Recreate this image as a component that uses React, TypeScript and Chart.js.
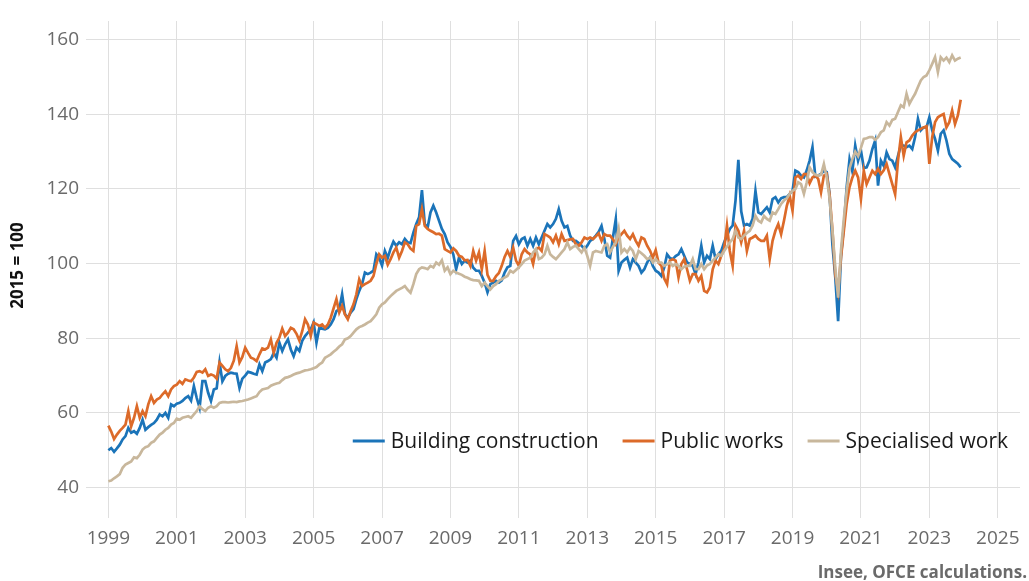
import React, { useEffect, useRef } from 'react';
import { Chart, registerables } from 'chart.js';

Chart.register(...registerables);

// Monthly indices, January 1999 onwards (2015 = 100)
const START_YEAR = 1999;

const buildingConstruction = [
  50.0, 50.6, 49.6, 50.5, 51.5, 52.9, 53.8, 56.0, 54.7, 55.1, 54.4, 56.0,
  58.2, 55.5, 56.2, 56.8, 57.3, 58.2, 59.6, 59.1, 60.0, 58.7, 62.3, 61.8,
  62.5, 62.7, 63.2, 64.0, 64.5, 63.3, 67.2, 64.0, 61.4, 68.5, 68.5, 65.4,
  63.2, 66.3, 66.6, 73.5, 68.5, 69.9, 70.5, 70.8, 70.6, 70.5, 66.7, 69.2,
  70.0, 71.0, 70.8, 70.5, 70.3, 73.0, 71.2, 73.5, 73.9, 74.4, 76.1, 74.8,
  78.8, 76.6, 78.4, 79.7, 77.0, 75.2, 77.5, 76.6, 79.3, 80.6, 81.5, 82.4,
  84.2, 78.8, 82.8, 82.6, 82.4, 82.8, 83.7, 85.1, 87.3, 87.8, 91.8, 86.5,
  85.5, 86.9, 87.8, 90.5, 92.7, 94.5, 97.6, 97.2, 97.6, 98.1, 102.5, 101.5,
  99.5, 103.4, 101.5, 104.0, 105.9, 104.8, 105.7, 105.2, 106.6, 105.7, 105.5, 108.3,
  110.6, 112.4, 119.7, 110.6, 109.7, 113.7, 115.5, 113.7, 111.5, 109.3, 107.9, 105.7,
  104.5, 102.5, 98.5, 101.6, 99.9, 100.8, 100.3, 100.8, 98.9, 98.1, 98.1, 96.7,
  94.9, 92.3, 94.5, 94.9, 95.4, 94.9, 95.5, 97.6, 99.0, 99.4, 106.1, 107.4,
  105.2, 106.6, 107.0, 104.8, 106.6, 104.8, 107.0, 105.2, 107.0, 108.8, 110.6, 109.7,
  110.6, 112.0, 114.6, 111.5, 109.7, 110.1, 107.5, 106.1, 106.1, 105.5, 104.8, 103.9,
  104.8, 106.1, 106.6, 107.5, 108.5, 110.1, 106.6, 102.1, 101.6, 107.0, 111.9, 98.1,
  100.3, 101.0, 101.6, 98.9, 101.2, 100.3, 99.4, 97.6, 98.5, 100.3, 101.6, 99.4,
  98.1, 97.6, 96.7, 99.0, 102.5, 101.5, 101.2, 102.0, 102.5, 103.9, 102.1, 100.3,
  100.0, 99.4, 97.2, 100.3, 104.8, 100.3, 102.1, 101.2, 104.8, 101.2, 102.5, 103.4,
  105.7, 107.5, 109.3, 110.2, 116.9, 127.8, 114.0, 110.2, 110.6, 110.2, 112.0, 119.5,
  113.7, 113.3, 114.2, 115.1, 113.7, 117.3, 117.8, 116.4, 117.5, 117.8, 117.8, 118.7,
  119.5, 124.9, 124.5, 123.6, 123.1, 125.0, 127.6, 131.2, 123.3, 123.6, 124.0, 124.9,
  124.5, 118.6, 105.0, 96.3, 84.6, 102.0, 110.0, 120.5, 128.0, 124.7, 131.6, 127.6,
  130.3, 125.6, 125.8, 127.6, 130.7, 133.0, 120.9, 127.6, 126.2, 129.8, 128.0, 127.6,
  125.8, 128.9, 131.6, 131.6, 131.2, 131.6, 130.7, 133.9, 138.8, 135.7, 136.5, 136.5,
  139.2, 135.7, 133.4, 130.3, 134.8, 135.7, 133.0, 129.4, 128.0, 127.4, 126.8, 125.8,
];

const publicWorks = [
  56.6, 55.0, 53.0, 54.2, 55.2, 56.0, 56.9, 60.5, 56.4, 58.7, 61.8, 58.7,
  60.5, 59.1, 62.3, 64.5, 62.7, 63.6, 64.0, 65.0, 65.8, 64.5, 66.3, 67.2,
  67.6, 68.5, 67.8, 69.0, 68.7, 68.5, 69.5, 71.0, 71.2, 70.8, 71.7, 69.9,
  70.3, 70.0, 69.2, 73.5, 72.6, 71.7, 71.2, 72.1, 74.0, 77.9, 73.5, 75.0,
  77.5, 76.1, 74.8, 74.5, 73.9, 75.7, 77.3, 77.0, 77.5, 79.7, 76.1, 78.8,
  80.2, 82.6, 80.6, 81.5, 82.8, 82.4, 81.2, 79.4, 81.9, 85.1, 83.7, 80.6,
  84.2, 83.8, 83.3, 83.7, 82.8, 83.7, 85.5, 88.0, 90.5, 86.9, 88.7, 86.4,
  85.1, 87.3, 89.1, 91.8, 95.8, 94.0, 94.5, 94.9, 95.4, 96.7, 99.9, 102.5,
  101.6, 102.1, 99.7, 101.2, 103.0, 104.3, 101.6, 103.4, 105.7, 105.2, 104.0, 103.4,
  110.1, 110.6, 114.6, 110.1, 109.3, 108.8, 108.4, 107.9, 108.0, 107.5, 103.9, 103.4,
  103.0, 104.1, 103.4, 102.1, 101.8, 100.9, 101.0, 99.4, 103.4, 100.8, 103.0, 98.5,
  103.4, 97.0, 95.4, 95.4, 96.7, 97.5, 99.4, 101.8, 103.4, 101.8, 104.3, 100.8,
  99.4, 102.5, 103.9, 103.0, 102.5, 99.9, 103.9, 104.3, 103.4, 107.9, 107.5, 107.0,
  105.7, 107.5, 105.2, 107.9, 106.1, 106.3, 106.5, 106.6, 105.2, 104.8, 105.7, 107.0,
  106.6, 107.0, 106.6, 107.3, 108.1, 106.1, 107.9, 107.5, 107.5, 106.5, 105.2, 107.0,
  107.9, 108.8, 107.5, 106.6, 107.9, 106.1, 104.8, 107.0, 106.6, 104.8, 103.5, 101.6,
  103.6, 100.3, 99.4, 96.0, 94.5, 100.8, 101.2, 100.8, 96.3, 99.9, 101.2, 98.5,
  95.4, 97.2, 97.2, 95.4, 96.7, 92.7, 92.3, 93.6, 98.5, 100.8, 99.9, 102.1,
  103.9, 110.2, 103.4, 99.4, 110.2, 108.8, 105.7, 108.8, 103.4, 106.6, 107.0, 107.5,
  106.6, 106.1, 106.1, 107.5, 101.2, 106.1, 108.8, 110.6, 107.9, 111.5, 115.5, 118.2,
  114.2, 123.1, 123.6, 122.7, 124.0, 124.0, 121.5, 123.1, 123.6, 122.7, 119.1, 123.6,
  124.0, 118.5, 109.0, 97.0, 92.7, 101.6, 108.8, 116.0, 120.5, 123.1, 124.9, 123.1,
  117.3, 124.9, 121.3, 123.1, 124.9, 124.0, 125.4, 124.0, 125.0, 126.7, 124.0, 121.3,
  118.6, 127.6, 133.9, 128.9, 132.5, 133.0, 134.3, 135.2, 135.7, 136.1, 136.5, 136.8,
  126.7, 133.9, 137.9, 139.2, 139.7, 140.1, 136.5, 137.9, 141.0, 137.4, 139.7, 143.9,
];

const specialisedWork = [
  41.7, 41.9, 42.5, 43.0, 43.6, 45.3, 46.2, 46.6, 47.0, 48.1, 47.9, 48.8,
  50.2, 50.8, 51.1, 52.0, 52.4, 53.3, 54.2, 54.7, 55.5, 56.0, 56.9, 57.3,
  58.5, 58.2, 58.7, 58.9, 59.1, 58.7, 59.6, 60.5, 61.8, 61.0, 60.5, 61.4,
  61.8, 61.4, 61.8, 62.7, 62.9, 62.9, 62.8, 62.9, 63.0, 62.9, 63.1, 63.2,
  63.4, 63.6, 63.9, 64.2, 64.5, 65.6, 66.3, 66.5, 66.7, 67.3, 67.6, 67.9,
  68.1, 68.8, 69.4, 69.6, 69.9, 70.3, 70.6, 70.8, 71.1, 71.4, 71.5, 71.7,
  72.0, 72.3, 73.0, 73.5, 74.8, 75.2, 75.7, 76.4, 77.0, 77.8, 78.4, 79.7,
  80.0, 80.6, 81.5, 82.4, 83.0, 83.3, 83.7, 84.2, 84.6, 85.5, 86.4, 88.2,
  89.1, 89.6, 90.5, 91.3, 92.0, 92.7, 93.1, 93.5, 94.0, 93.0, 92.2, 94.5,
  97.2, 98.5, 99.0, 98.8, 98.5, 99.4, 99.0, 100.3, 99.7, 100.9, 98.1, 99.0,
  97.2, 98.1, 97.6, 97.3, 97.0, 96.5, 96.2, 95.8, 95.6, 95.5, 95.4, 94.0,
  94.9, 94.0, 93.1, 94.0, 94.5, 95.4, 95.8, 96.3, 96.7, 98.1, 97.6, 98.3,
  99.0, 99.9, 100.8, 101.2, 101.6, 103.0, 103.9, 101.2, 101.6, 102.5, 104.8, 102.5,
  101.8, 101.2, 102.1, 103.0, 103.9, 105.7, 103.9, 104.5, 104.8, 103.9, 103.0, 104.3,
  102.1, 99.4, 103.0, 103.4, 103.2, 103.0, 104.8, 105.2, 103.0, 104.5, 105.7, 109.3,
  103.0, 103.9, 103.0, 104.3, 103.4, 101.2, 103.4, 102.8, 102.1, 101.2, 101.6, 100.3,
  101.2, 100.3, 100.3, 99.4, 99.8, 100.3, 99.4, 99.9, 99.4, 98.5, 99.2, 99.4,
  99.4, 101.2, 98.5, 98.5, 99.9, 98.5, 99.5, 99.9, 100.8, 101.6, 102.5, 102.1,
  103.4, 104.5, 105.7, 106.6, 108.8, 107.0, 106.6, 107.5, 108.2, 108.8, 110.2, 112.8,
  111.5, 111.0, 112.8, 112.0, 111.5, 113.7, 113.3, 114.6, 116.0, 116.9, 117.5, 118.7,
  119.5, 120.0, 121.8, 121.3, 118.7, 121.8, 125.8, 124.5, 123.8, 123.6, 123.8, 126.7,
  123.1, 117.5, 109.0, 99.0, 90.9, 103.5, 112.0, 119.5, 125.5, 128.0, 130.0, 128.8,
  131.0, 133.4, 133.6, 133.9, 133.9, 133.2, 133.9, 135.2, 135.7, 137.9, 137.0, 138.5,
  138.8, 140.6, 142.4, 141.9, 145.5, 142.8, 144.2, 145.5, 147.3, 149.1, 150.0, 150.4,
  151.8, 153.5, 155.3, 151.3, 155.3, 154.4, 155.2, 154.0, 155.8, 154.4, 154.9, 155.2,
];

const seriesLabels = ['Building construction', 'Public works', 'Specialised work'];
const seriesColors = ['#1b74b9', '#dc6a29', '#c8b79c'];
const xTickYears = [1999, 2001, 2003, 2005, 2007, 2009, 2011, 2013, 2015, 2017, 2019, 2021, 2023, 2025];
const yTickValues = [40, 60, 80, 100, 120, 140, 160];
const yAxisTitle = '2015 = 100';
const sourceText = 'Insee, OFCE calculations.';

const FONT = '"Open Sans", "Noto Sans", sans-serif';

const toPoints = (arr: number[]) => arr.map((v, i) => ({ x: START_YEAR + i / 12, y: v }));

const overlayPlugin = {
  id: 'overlayLegendSource',
  afterDraw(chart: any) {
    const { ctx, chartArea, width } = chart;
    ctx.save();
    // legend
    ctx.font = `21px ${FONT}`;
    const lineLen = 32;
    const gapText = 6;
    const itemGap = 24;
    const widths = seriesLabels.map((t) => ctx.measureText(t).width);
    const total = widths.reduce((a, w) => a + lineLen + gapText + w, 0) + itemGap * (seriesLabels.length - 1);
    let x = chartArea.right - 12 - total;
    const y = chartArea.bottom - 69;
    ctx.textBaseline = 'middle';
    ctx.textAlign = 'left';
    seriesLabels.forEach((label, i) => {
      ctx.strokeStyle = seriesColors[i];
      ctx.lineWidth = 3;
      ctx.lineCap = 'butt';
      ctx.beginPath();
      ctx.moveTo(x, y);
      ctx.lineTo(x + lineLen, y);
      ctx.stroke();
      ctx.fillStyle = '#1a1a1a';
      ctx.fillText(label, x + lineLen + gapText, y + 1);
      x += lineLen + gapText + widths[i] + itemGap;
    });
    // source
    ctx.font = `bold 17px ${FONT}`;
    ctx.fillStyle = '#6a6a6a';
    ctx.textAlign = 'right';
    ctx.fillText(sourceText, width - 2, 573);
    ctx.restore();
  },
};

export default function App() {
  const ref = useRef<HTMLCanvasElement | null>(null);

  useEffect(() => {
    if (!ref.current) return;
    const chart = new Chart(ref.current, {
      type: 'line',
      data: {
        datasets: [
          {
            label: seriesLabels[0],
            data: toPoints(buildingConstruction),
            borderColor: seriesColors[0],
            borderWidth: 2.7,
            pointRadius: 0,
            tension: 0,
            order: 3,
          },
          {
            label: seriesLabels[1],
            data: toPoints(publicWorks),
            borderColor: seriesColors[1],
            borderWidth: 2.7,
            pointRadius: 0,
            tension: 0,
            order: 2,
          },
          {
            label: seriesLabels[2],
            data: toPoints(specialisedWork),
            borderColor: seriesColors[2],
            borderWidth: 2.7,
            pointRadius: 0,
            tension: 0,
            order: 1,
          },
        ],
      },
      options: {
        animation: false,
        responsive: false,
        maintainAspectRatio: false,
        layout: { padding: { top: 21, right: 9, left: 0, bottom: 0 } },
        plugins: {
          legend: { display: false },
          tooltip: { enabled: false },
          title: { display: false },
        },
        scales: {
          x: {
            type: 'linear',
            min: 1998.58,
            max: 2025.65,
            afterBuildTicks: (s: any) => {
              s.ticks = xTickYears.map((v) => ({ value: v }));
            },
            afterFit: (s: any) => {
              s.height = 71;
            },
            ticks: {
              callback: (v: any) => String(v),
              color: '#6a6a6a',
              font: { family: FONT, size: 19 },
              padding: 9,
              maxRotation: 0,
              autoSkip: false,
            },
            grid: { color: '#dfdfdf', lineWidth: 1, tickLength: 8, drawTicks: true },
            border: { display: false },
          },
          y: {
            type: 'linear',
            min: 34,
            max: 165,
            afterBuildTicks: (s: any) => {
              s.ticks = yTickValues.map((v) => ({ value: v }));
            },
            afterFit: (s: any) => {
              s.width = 94;
            },
            ticks: {
              callback: (v: any) => String(v),
              color: '#6a6a6a',
              font: { family: FONT, size: 19 },
              padding: 7,
            },
            grid: { color: '#dfdfdf', lineWidth: 1, tickLength: 8, drawTicks: true },
            border: { display: false },
            title: {
              display: true,
              text: yAxisTitle,
              color: '#111',
              font: { family: FONT, size: 17, weight: 'bold' },
              padding: { top: 8, bottom: 0 },
            },
          },
        },
      },
      plugins: [overlayPlugin],
    } as any);
    return () => chart.destroy();
  }, []);

  return (
    <div style={{ position: 'fixed', left: 0, top: 0, width: 1029, height: 581, background: '#fff' }}>
      <canvas ref={ref} width={1029} height={581} style={{ display: 'block' }} />
    </div>
  );
}
